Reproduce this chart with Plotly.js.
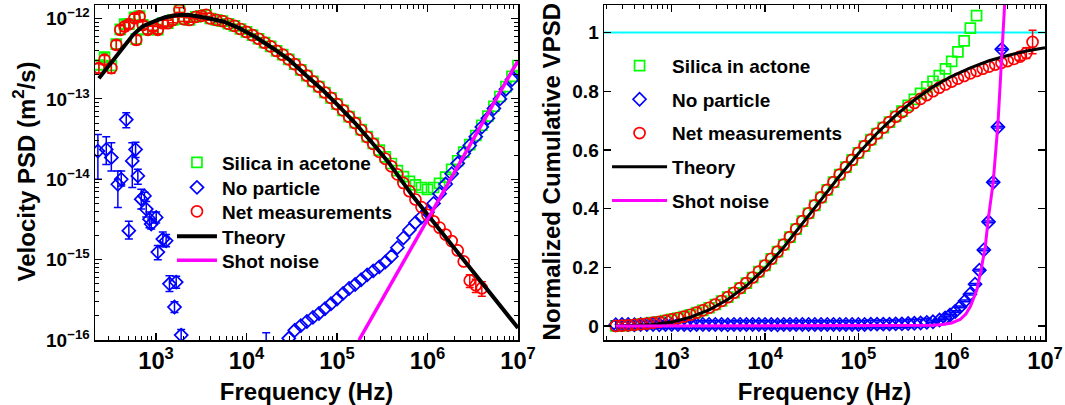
<!DOCTYPE html>
<html>
<head>
<meta charset="utf-8">
<script src="https://cdn.plot.ly/plotly-3.0.1.min.js"></script>
<style>
  html, body { margin: 0; padding: 0; background: #fff; }
  #plot { width: 1065px; height: 405px; }
</style>
</head>
<body>
<div id="plot"></div>
<script>
// ---------- data ----------
// log-binned frequency grid (Hz), 15 bins per decade
const gridFreq = [251, 293, 341, 398, 464, 541, 631, 736, 858, 1000,
  1166, 1359, 1585, 1848, 2154, 2512, 2929, 3415, 3981, 4642,
  5412, 6310, 7356, 8577, 1.0e4, 1.166e4, 1.359e4, 1.585e4, 1.848e4, 2.154e4,
  2.512e4, 2.929e4, 3.415e4, 3.981e4, 4.642e4, 5.412e4, 6.310e4, 7.356e4, 8.577e4, 1.0e5,
  1.166e5, 1.359e5, 1.585e5, 1.848e5, 2.154e5, 2.512e5, 2.929e5, 3.415e5, 3.981e5, 4.642e5,
  5.412e5, 6.310e5, 7.356e5, 8.577e5, 1.0e6, 1.166e6, 1.359e6, 1.585e6, 1.848e6, 2.154e6,
  2.512e6, 2.929e6, 3.415e6, 3.981e6, 4.642e6, 5.412e6, 6.310e6, 7.356e6, 8.577e6, 1.0e7];

// low-frequency bins of the velocity PSD (Hz)
const psdFreqLow = [234, 270, 321, 364, 403, 450, 501, 579, 605, 658, 714, 813,
  923, 1047, 1189, 1349, 1531, 1816, 2042, 2339, 2754, 3162, 3573];

// Velocity PSD, silica in acetone (m^2/s)
const silicaPsdLow = [2.64e-13, 3.3e-13, 2.6e-13, 4.8e-13, 7.33e-13, 8.5e-13, 8.53e-13, 1.03e-12,
  5.55e-13, 1.07e-12, 8.36e-13, 7.27e-13, 7.93e-13, 7.26e-13, 8.77e-13, 8.77e-13, 9.6e-13,
  1.28e-12, 9.8e-13, 9.6e-13, 1.05e-12, 1.08e-12, 1.11e-12];
const silicaPsdHigh = [1.0e-12, 9.6e-13, 9.3e-13, 8.6e-13, 8.1e-13, 7.4e-13, 6.8e-13, 6.2e-13,
  5.6e-13, 5.0e-13, 4.5e-13, 3.95e-13, 3.55e-13, 3.1e-13, 2.7e-13, 2.3e-13, 1.95e-13, 1.65e-13,
  1.42e-13, 1.2e-13, 1.03e-13, 8.6e-14, 7.2e-14, 6.0e-14, 5.05e-14, 4.15e-14, 3.4e-14, 2.8e-14,
  2.3e-14, 1.9e-14, 1.57e-14, 1.28e-14, 1.08e-14, 9.4e-15, 8.5e-15, 7.9e-15, 7.5e-15, 7.9e-15,
  8.9e-15, 1.06e-14, 1.33e-14, 1.7e-14, 2.18e-14, 2.7e-14, 3.5e-14, 4.7e-14, 6.1e-14, 8.1e-14,
  1.07e-13, 1.42e-13, 1.9e-13, 2.6e-13];

// Net measurements (m^2/s)
const netPsdLow = [2.42e-13, 3.07e-13, 2.42e-13, 4.71e-13, 7.23e-13, 7.94e-13, 8.5e-13, 1.01e-12,
  5.43e-13, 1.06e-12, 8.3e-13, 7.23e-13, 7.9e-13, 7.23e-13, 8.75e-13, 8.75e-13, 9.6e-13,
  1.28e-12, 9.8e-13, 9.6e-13, 1.05e-12, 1.08e-12, 1.11e-12];
const psdErrLow = [3.2e-14, 4.0e-14, 3.4e-14, 6.0e-14, 9.0e-14, 1.0e-13, 1.0e-13, 1.2e-13,
  7.0e-14, 1.2e-13, 9.0e-14, 8.0e-14, 8.0e-14, 7.5e-14, 8.0e-14, 7.5e-14, 7.5e-14,
  9.0e-14, 6.5e-14, 6.0e-14, 6.0e-14, 5.5e-14, 5.0e-14];
const netPsdHigh = [1.0e-12, 9.6e-13, 9.3e-13, 8.6e-13, 8.1e-13, 7.4e-13, 6.8e-13, 6.2e-13,
  5.6e-13, 5.0e-13, 4.5e-13, 3.95e-13, 3.55e-13, 3.1e-13, 2.7e-13, 2.3e-13, 1.95e-13, 1.65e-13,
  1.42e-13, 1.2e-13, 1.03e-13, 8.6e-14, 7.2e-14, 6.0e-14, 5.0e-14, 4.1e-14, 3.35e-14, 2.75e-14,
  2.2e-14, 1.8e-14, 1.45e-14, 1.15e-14, 9.0e-15, 7.1e-15, 5.6e-15, 4.5e-15, 3.6e-15, 3.0e-15,
  2.5e-15, 2.05e-15, 1.7e-15, 1.3e-15, 9.5e-16];
const netPsdTail = [5.5e-16, 4.8e-16, 4.4e-16];
const netErrTail = [1.0e-16, 0.9e-16, 0.9e-16];

// No particle: scattered low-frequency bins with their error bounds
const noPartFreqLow = [228, 282, 321, 379, 413, 469, 501, 547, 595, 630, 687, 746,
  780, 847, 885, 1005, 1047, 1189, 1294, 1409, 1671, 1600, 1897, 16500];
const noPartPsdLow = [2.24e-14, 2.35e-14, 1.86e-14, 8.67e-15, 1.0e-14, 5.53e-14, 2.29e-15, 1.69e-14,
  2.35e-14, 1.1e-14, 5.65e-15, 6.21e-15, 4.25e-15, 3.19e-15, 2.77e-15, 3.35e-15, 1.24e-15,
  1.8e-15, 1.72e-15, 5.0e-16, 5.25e-16, 2.57e-16, 1.15e-16, 6.0e-17];
const noPartLowHi = [3.61e-14, 3.38e-14, 2.85e-14, 1.27e-14, 1.27e-14, 6.71e-14, 3.0e-15, 2.85e-14,
  2.88e-14, 1.33e-14, 7.5e-15, 6.9e-15, 5.3e-15, 3.9e-15, 3.2e-15, 3.9e-15, 1.5e-15,
  2.2e-15, 2.05e-15, 6.3e-16, 6.2e-16, 3.0e-16, 1.35e-16, 1.23e-16];
const noPartLowLo = [1.0e-14, 1.53e-14, 1.27e-14, 4.46e-15, 8.26e-15, 4.38e-14, 1.8e-15, 7.89e-15,
  1.87e-14, 8.67e-15, 4.25e-15, 5.5e-15, 3.4e-15, 2.5e-15, 2.4e-15, 2.85e-15, 1.0e-15,
  1.45e-15, 1.45e-15, 4.0e-16, 4.4e-16, 2.2e-16, 0.98e-16, 4.0e-17];
// No particle above 29 kHz (grid bins)
const noPartPsdHigh = [1.05e-16, 1.32e-16, 1.51e-16, 1.70e-16, 1.91e-16, 2.14e-16, 2.45e-16, 2.82e-16,
  3.24e-16, 3.8e-16, 4.37e-16, 4.9e-16, 5.62e-16, 6.46e-16, 7.24e-16, 8.13e-16, 9.33e-16,
  1.10e-15, 1.41e-15, 1.86e-15, 2.34e-15, 2.88e-15, 3.39e-15, 3.89e-15, 5.01e-15, 6.61e-15,
  8.71e-15, 1.17e-14, 1.58e-14, 2.09e-14, 2.63e-14, 3.39e-14, 4.47e-14, 5.75e-14, 7.59e-14,
  1.0e-13, 1.32e-13, 1.74e-13, 2.29e-13];

// Theory curve for the PSD
const theoryFreq = [234, 316, 427, 562, 708, 1000, 1259, 1660, 2239, 3548, 5623, 8318,
  12590, 19500, 29510, 45710, 70790, 104700, 158500, 245500, 371500, 676100,
  1.0e6, 1.585e6, 2.63e6, 4.365e6, 6.607e6, 1.0e7];
const theoryPsd = [1.8e-13, 2.82e-13, 4.27e-13, 6.31e-13, 7.94e-13, 9.44e-13, 1.035e-12, 1.1e-12,
  1.11e-12, 1.02e-12, 9.12e-13, 7.59e-13, 5.89e-13, 4.27e-13, 3.09e-13, 1.95e-13, 1.26e-13,
  8.13e-14, 5.01e-14, 2.82e-14, 1.62e-14, 6.31e-15, 3.63e-15, 1.86e-15, 9.33e-16, 4.57e-16,
  2.51e-16, 1.41e-16];

// Shot-noise floor for the PSD
const shotFreq = [1.75e5, 1.0e6, 1.0e7];
const shotPsd = [1.0e-16, 3.2e-15, 3.0e-13];

// Normalized cumulative VPSD
const netCum = [0.0, 0.001, 0.002, 0.004, 0.006, 0.008, 0.011, 0.014, 0.018, 0.022,
  0.027, 0.032, 0.038, 0.045, 0.053, 0.062, 0.073, 0.085, 0.098, 0.113,
  0.129, 0.146, 0.165, 0.185, 0.206, 0.229, 0.253, 0.277, 0.303, 0.33,
  0.357, 0.384, 0.411, 0.438, 0.464, 0.49, 0.516, 0.541, 0.566, 0.59,
  0.613, 0.635, 0.656, 0.676, 0.695, 0.713, 0.729, 0.745, 0.76, 0.774,
  0.787, 0.8, 0.812, 0.823, 0.833, 0.843, 0.852, 0.861, 0.869, 0.877,
  0.884, 0.891, 0.897, 0.903, 0.91];
const netCumTail = [0.918, 0.93, 0.968];
const netCumErrTail = [0.012, 0.018, 0.04];

const silicaCum = [0.0, 0.001, 0.002, 0.004, 0.006, 0.008, 0.011, 0.014, 0.018, 0.022,
  0.027, 0.032, 0.038, 0.045, 0.053, 0.062, 0.073, 0.085, 0.098, 0.113,
  0.129, 0.146, 0.165, 0.185, 0.206, 0.229, 0.253, 0.277, 0.303, 0.33,
  0.357, 0.384, 0.411, 0.438, 0.464, 0.49, 0.516, 0.541, 0.566, 0.59,
  0.613, 0.635, 0.656, 0.676, 0.695, 0.714, 0.732, 0.752, 0.772, 0.793,
  0.815, 0.834, 0.853, 0.876, 0.902, 0.934, 0.972, 1.015, 1.058];

const noPartCumFlat = [0.004, 0.005, 0.005, 0.004, 0.005, 0.005, 0.005, 0.004, 0.005, 0.005,
  0.005, 0.005, 0.004, 0.005, 0.005, 0.005, 0.005, 0.005, 0.004, 0.005,
  0.005, 0.005, 0.005, 0.005, 0.005, 0.005, 0.004, 0.005, 0.005, 0.005,
  0.005, 0.005, 0.005, 0.005, 0.005, 0.005, 0.005, 0.005, 0.005, 0.005,
  0.005, 0.006, 0.006, 0.006, 0.006, 0.007, 0.007, 0.008, 0.009, 0.010, 0.012];
const noPartCumRiseFreq = [6.3e5, 7.4e5, 8.5e5, 9.6e5, 1.09e6, 1.23e6, 1.39e6, 1.57e6,
  1.78e6, 1.98e6, 2.21e6, 2.48e6, 2.79e6, 3.13e6, 3.44e6];
const noPartCumRise = [0.014, 0.02, 0.027, 0.037, 0.049, 0.065, 0.085, 0.108,
  0.142, 0.19, 0.259, 0.355, 0.49, 0.678, 0.943];

const theoryCumFreq = [251, 631, 1000, 1585, 2512, 3981, 6310, 1.0e4, 15850, 25120, 39810,
  63100, 1.0e5, 158500, 251200, 398100, 631000, 1.0e6, 1.585e6, 2.512e6, 3.981e6, 6.31e6, 1.0e7];
const theoryCum = [0.0, 0.005, 0.013, 0.03, 0.055, 0.09, 0.137, 0.197, 0.268, 0.347, 0.43,
  0.512, 0.588, 0.657, 0.718, 0.77, 0.815, 0.851, 0.88, 0.904, 0.922, 0.937, 0.948];

const shotCumFreq = [251, 3.162e5, 6.31e5, 7.943e5, 1.0e6, 1.23e6, 1.413e6, 1.585e6, 1.862e6,
  2.089e6, 2.291e6, 2.455e6, 2.63e6, 2.786e6, 3.133e6, 3.443e6, 3.715e6];
const shotCum = [0.0, 0.0, 0.002, 0.005, 0.01, 0.022, 0.04, 0.066, 0.123,
  0.2, 0.27, 0.36, 0.43, 0.49, 0.69, 0.95, 1.11];

// unity reference level
const unityFreq = [100, 2.0e7];
const unityLevel = [1, 1];

// labels
const leftNames = ['Silica in acetone', 'No particle', 'Net measurements', 'Theory', 'Shot noise'];
const rightNames = ['Silica in actone', 'No particle', 'Net measurements', 'Theory', 'Shot noise'];
const xTitle = 'Frequency (Hz)';
const yTitleLeft = 'Velocity PSD (m<sup>2</sup>/s)';
const yTitleRight = 'Normalized Cumulative VPSD';
// PSD axis ticks (decades) and their exponents
const psdTickVals = [1e-16, 1e-15, 1e-14, 1e-13, 1e-12];
const psdTickExp = ['\u221216', '\u221215', '\u221214', '\u221213', '\u221212'];

// ---------- styles ----------
const FONT = 'Liberation Sans, Arial, Helvetica, sans-serif';
const GREEN = '#00ff00', BLUE = '#0000ff', RED = '#ff0000', MAGENTA = '#ff00ff', CYAN = '#00ffff';

function markers(x, y, symbol, color, size, extra) {
  return Object.assign({
    x: x, y: y, type: 'scatter', mode: 'markers', hoverinfo: 'skip',
    marker: { symbol: symbol, size: size, color: color, line: { width: 1.7, color: color } }
  }, extra);
}
function errs(plus, minus, color) {
  const e = { type: 'data', array: plus, color: color, thickness: 1.5, width: 4, visible: true };
  if (minus) { e.symmetric = false; e.arrayminus = minus; }
  return e;
}
function line(x, y, color, width, extra) {
  return Object.assign({
    x: x, y: y, type: 'scatter', mode: 'lines', hoverinfo: 'skip',
    line: { color: color, width: width }
  }, extra);
}

const L = { xaxis: 'x', yaxis: 'y' };
const R = { xaxis: 'x2', yaxis: 'y2' };
const hide = { showlegend: false };
// one legend box per entry so each row sits at its own height
function lg(n) { return { legend: n === 1 ? 'legend' : 'legend' + n }; }

const noPartPlus = noPartLowHi.map((v, i) => v - noPartPsdLow[i]);
const noPartMinus = noPartLowLo.map((v, i) => noPartPsdLow[i] - v);

const SQ = 10, CI = 11, DI = 10;

const traces = [
  // ---- left: velocity PSD ----
  markers(psdFreqLow, silicaPsdLow, 'square-open', GREEN, SQ,
    Object.assign({ error_y: errs(psdErrLow, null, GREEN) }, hide, L)),
  markers(gridFreq.slice(18), silicaPsdHigh, 'square-open', GREEN, SQ,
    Object.assign({ name: leftNames[0] }, lg(1), L)),
  markers(noPartFreqLow, noPartPsdLow, 'diamond-open', BLUE, DI,
    Object.assign({ error_y: errs(noPartPlus, noPartMinus, BLUE) }, hide, L)),
  markers(gridFreq.slice(31), noPartPsdHigh, 'diamond-open', BLUE, DI,
    Object.assign({ name: leftNames[1] }, lg(2), L)),
  markers(psdFreqLow, netPsdLow, 'circle-open', RED, CI,
    Object.assign({ error_y: errs(psdErrLow, null, RED) }, hide, L)),
  markers(gridFreq.slice(18, 61), netPsdHigh, 'circle-open', RED, CI,
    Object.assign({ name: leftNames[2] }, lg(3), L)),
  markers(gridFreq.slice(61, 64), netPsdTail, 'circle-open', RED, CI,
    Object.assign({ error_y: errs(netErrTail, null, RED) }, hide, L)),
  line(theoryFreq, theoryPsd, '#000', 4, Object.assign({ name: leftNames[3] }, lg(4), L)),
  line(shotFreq, shotPsd, MAGENTA, 3.5, Object.assign({ name: leftNames[4] }, lg(5), L)),

  // ---- right: normalized cumulative VPSD ----
  line(unityFreq, unityLevel, CYAN, 2, Object.assign({}, hide, R)),
  markers(gridFreq.slice(0, 59), silicaCum, 'square-open', GREEN, SQ,
    Object.assign({ name: rightNames[0] }, lg(6), R)),
  markers(gridFreq.slice(0, 51), noPartCumFlat, 'diamond-open', BLUE, DI,
    Object.assign({ name: rightNames[1],
      error_y: { type: 'constant', value: 0.013, color: BLUE, thickness: 1.5, width: 5 } }, lg(7), R)),
  markers(noPartCumRiseFreq, noPartCumRise, 'diamond-open', BLUE, DI,
    Object.assign({ error_y: { type: 'constant', value: 0.003, color: BLUE, thickness: 1.5, width: 6 } }, hide, R)),
  markers(gridFreq.slice(0, 65), netCum, 'circle-open', RED, CI,
    Object.assign({ name: rightNames[2] }, lg(8), R)),
  markers(gridFreq.slice(65, 68), netCumTail, 'circle-open', RED, CI,
    Object.assign({ error_y: errs(netCumErrTail, null, RED) }, hide, R)),
  line(theoryCumFreq, theoryCum, '#000', 3, Object.assign({ name: rightNames[3] }, lg(9), R)),
  line(shotCumFreq, shotCum, MAGENTA, 3, Object.assign({ name: rightNames[4] }, lg(10), R))
];

// ---------- layout ----------
const tickFont = { family: FONT, size: 19, color: '#000', weight: 'bold' };
const titleFont = { family: FONT, size: 24, color: '#000', weight: 'bold' };
const legendFont = { family: FONT, size: 19, color: '#000', weight: 'bold' };
const minorLog = { ticks: 'inside', ticklen: 4, tickwidth: 1, tickcolor: '#000', dtick: 'D1', showgrid: false };

function axis(extra) {
  return Object.assign({
    showline: true, linecolor: '#000', linewidth: 1.5, mirror: 'ticks',
    ticks: 'inside', ticklen: 7, tickwidth: 1.2, tickcolor: '#000',
    showgrid: false, zeroline: false, automargin: false, fixedrange: true,
    tickfont: tickFont
  }, extra);
}
function logAxis(extra) {
  return axis(Object.assign({
    type: 'log', dtick: 1, exponentformat: 'power', showexponent: 'all', minor: minorLog
  }, extra));
}
function legendBox(x, y, w) {
  return { x: x, y: y, xanchor: 'left', yanchor: 'top', bgcolor: 'rgba(0,0,0,0)',
    borderwidth: 0, itemwidth: w, font: legendFont };
}
// vertical axis titles placed beside their tick labels
function sideTitle(text, x) {
  return { text: text, xref: 'paper', yref: 'paper', x: x, y: 0.503, textangle: -90,
    showarrow: false, xanchor: 'center', yanchor: 'middle', font: titleFont };
}

const layout = {
  width: 1065, height: 405,
  margin: { l: 95, r: 20, t: 5, b: 65 },
  paper_bgcolor: '#fff', plot_bgcolor: '#fff',
  font: { family: FONT, color: '#000' },
  showlegend: true,
  xaxis: logAxis({ domain: [0, 0.4453], range: [2.326, 7], anchor: 'y',
    title: { text: xTitle, font: titleFont } }),
  yaxis: logAxis({ domain: [0, 1], range: [-16, -11.832], anchor: 'x',
    tickmode: 'array', tickvals: psdTickVals,
    ticktext: psdTickExp.map(e => '10<sup style="font-size:14px">' + e + '</sup>') }),
  xaxis2: logAxis({ domain: [0.5358, 1], range: [2.274, 7], anchor: 'y2',
    title: { text: xTitle, font: titleFont } }),
  yaxis2: axis({ domain: [0, 1], range: [-0.048, 1.094], anchor: 'x2', tick0: 0, dtick: 0.2 }),
  annotations: [sideTitle(yTitleLeft, -0.0737), sideTitle(yTitleRight, 0.481)],
  legend: legendBox(0.081, 0.5866, 40),
  legend2: legendBox(0.081, 0.512, 40),
  legend3: legendBox(0.081, 0.4403, 40),
  legend4: legendBox(0.081, 0.3657, 40),
  legend5: legendBox(0.081, 0.294, 40),
  legend6: legendBox(0.539, 0.8755, 55),
  legend7: legendBox(0.539, 0.7749, 55),
  legend8: legendBox(0.539, 0.674, 55),
  legend9: legendBox(0.539, 0.5731, 55),
  legend10: legendBox(0.539, 0.4725, 55)
};

Plotly.newPlot('plot', traces, layout, { displayModeBar: false, staticPlot: true });
</script>
</body>
</html>
